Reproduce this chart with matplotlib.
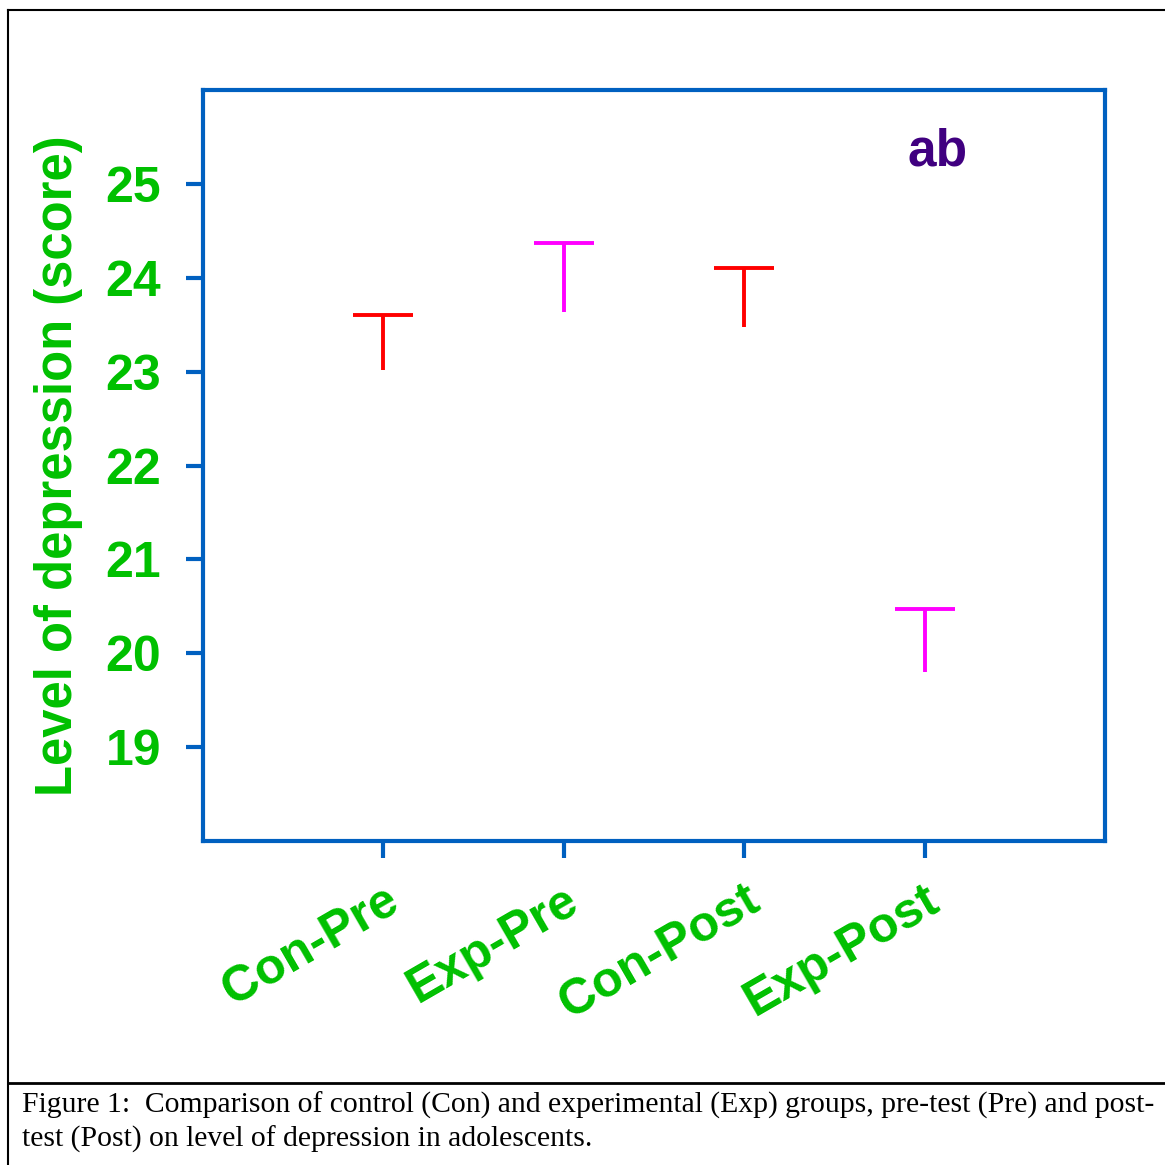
import matplotlib.pyplot as plt
from matplotlib.lines import Line2D

groups = ["Con-Pre", "Exp-Pre", "Con-Post", "Exp-Post"]
means = [23.02, 23.64, 23.48, 19.80]
errors = [0.58, 0.73, 0.62, 0.67]
colors = ["#ff0000", "#ff00ff", "#ff0000", "#ff00ff"]
yticks = [19, 20, 21, 22, 23, 24, 25]

green = "#00c000"
blue = "#0060c0"

fig = plt.figure(figsize=(11.65, 11.65), dpi=100)
W = H = 1165.0

ax = fig.add_axes([203 / W, 1 - 841 / H, (1105 - 203) / W, (841 - 90) / H])

xs = list(range(1, len(groups) + 1))
for x, m, e, c in zip(xs, means, errors, colors):
    # upper half of the error bar only, capped with a T
    ax.vlines(x, m, m + e, colors=c, linewidth=2.8)
    ax.plot([x], [m + e], marker="_", markersize=43, markeredgewidth=2.8,
            color=c, linestyle="none")

ax.set_xlim(0, 5)
ax.set_ylim(18, 26)
ax.set_xticks(xs)
ax.set_xticklabels(groups, rotation=30, ha="right", rotation_mode="anchor",
                   fontsize=36, fontweight="bold", color=green,
                   family="Liberation Sans")
ax.set_yticks(yticks)
ax.set_yticklabels([str(t) for t in yticks], fontsize=36, fontweight="bold",
                   color=green, family="Liberation Sans")
ax.tick_params(axis="both", direction="out", length=12, width=3, color=blue)
ax.tick_params(axis="x", pad=14)
ax.tick_params(axis="y", pad=18)

for s in ax.spines.values():
    s.set_color(blue)
    s.set_linewidth(3)

ax.set_ylabel("Level of depression (score)", fontsize=36.5, fontweight="bold",
              color=green, family="Liberation Sans", labelpad=16)

ax.text(4.07, 25.34, "ab", fontsize=37, fontweight="bold", color="#400080",
        family="Liberation Sans", ha="center", va="center")

# outer frame and caption separator
fig.add_artist(Line2D([8 / W, 8 / W], [0, 1 - 10 / H], color="black", lw=1.5))
fig.add_artist(Line2D([8 / W, 1], [1 - 10 / H, 1 - 10 / H], color="black", lw=1.5))
fig.add_artist(Line2D([8 / W, 1], [1 - 1083 / H, 1 - 1083 / H], color="black", lw=2))

fig.text(22 / W, 1 - 1105 / H,
         "Figure 1:  Comparison of control (Con) and experimental (Exp) groups, pre-test (Pre) and post-",
         fontsize=21.3, family="Liberation Serif", va="center", ha="left")
fig.text(22 / W, 1 - 1139 / H,
         "test (Post) on level of depression in adolescents.",
         fontsize=21.3, family="Liberation Serif", va="center", ha="left")

fig.savefig("out.png", dpi=100)
